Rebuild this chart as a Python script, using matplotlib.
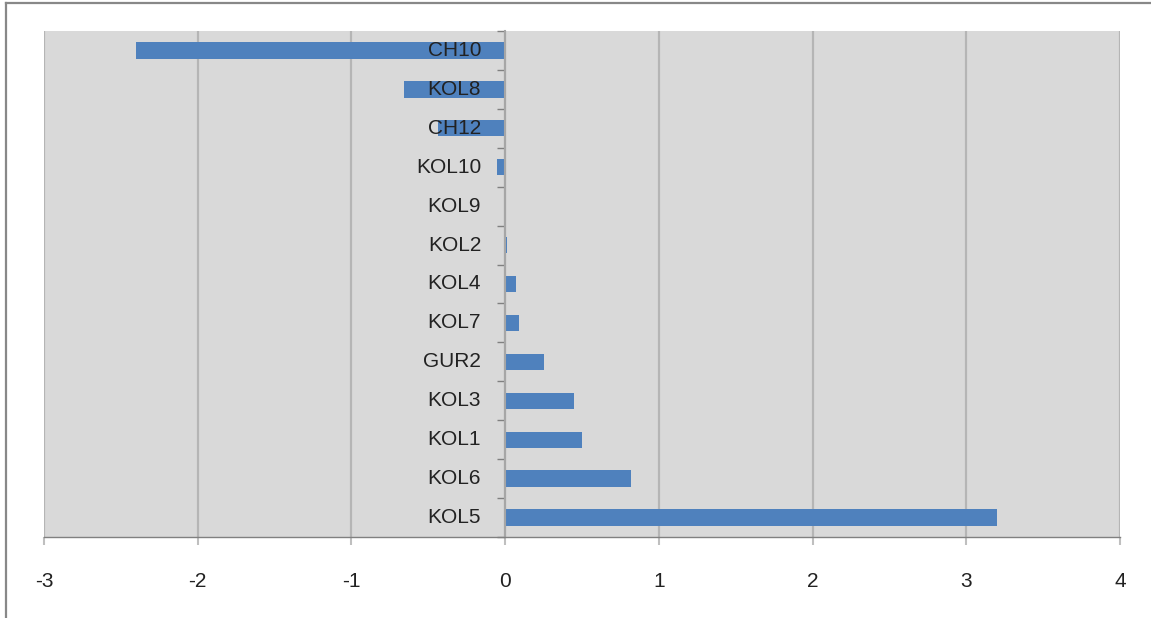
import numpy as np
import matplotlib
matplotlib.use("Agg")
import matplotlib.pyplot as plt
from matplotlib.lines import Line2D
import matplotlib.transforms as mtransforms

# categories, top to bottom as shown in the chart
categories = ["CH10", "KOL8", "CH12", "KOL10", "KOL9", "KOL2", "KOL4",
              "KOL7", "GUR2", "KOL3", "KOL1", "KOL6", "KOL5"]
values = [-2.40, -0.66, -0.44, -0.05, 0.0, 0.01, 0.07,
          0.09, 0.25, 0.45, 0.50, 0.82, 3.20]
xticks = [-3, -2, -1, 0, 1, 2, 3, 4]

plt.rcParams['font.family'] = ['Liberation Sans', 'DejaVu Sans']

fig = plt.figure(figsize=(11.51, 6.18), dpi=100)
ax = fig.add_axes([44 / 1151, 81 / 618, 1076 / 1151, 506 / 618])
ax.set_facecolor('#D9D9D9')

n = len(categories)
ypos = np.arange(n)[::-1]
ax.barh(ypos, values, height=0.42, color='#4F81BD', zorder=2)

ax.set_xlim(-3, 4)
ax.set_ylim(-0.5, n - 0.5)
ax.set_xticks(xticks)
ax.set_xticklabels([str(t) for t in xticks])
ax.tick_params(axis='x', length=6, width=1.5, color='#BFBFBF', pad=19,
               labelsize=15, labelcolor='#222222')
ax.set_axisbelow(True)
ax.grid(axis='x', color='#B5B5B5', linewidth=1.6)

# category axis sits at x = 0
ax.spines['left'].set_position(('data', 0))
ax.spines['left'].set_color('#A6A6A6')
ax.spines['left'].set_linewidth(1.5)
ax.set_yticks(ypos, [])
ax.set_yticks(np.arange(n + 1) - 0.5, minor=True)
ax.tick_params(axis='y', which='major', length=0)
ax.tick_params(axis='y', which='minor', length=6, width=1, color='#808080',
               direction='out')
for s in ['top', 'right']:
    ax.spines[s].set_visible(False)
ax.spines['bottom'].set_color('#808080')
ax.spines['bottom'].set_linewidth(1)

# category labels drawn over the bars
offset = mtransforms.offset_copy(ax.transData, fig=fig, x=-24, y=0, units='dots')
for y, name in zip(ypos, categories):
    ax.text(0, y, name, transform=offset, ha='right', va='center',
            fontsize=15, color='#222222', zorder=3)

# outer chart border (top and left visible)
fig.add_artist(Line2D([6 / 1151, 6 / 1151], [0, 1 - 3 / 618],
                      transform=fig.transFigure, color='#888888', lw=1.6))
fig.add_artist(Line2D([6 / 1151, 1], [1 - 3 / 618, 1 - 3 / 618],
                      transform=fig.transFigure, color='#888888', lw=1.6))

fig.savefig('out.png', dpi=100)
